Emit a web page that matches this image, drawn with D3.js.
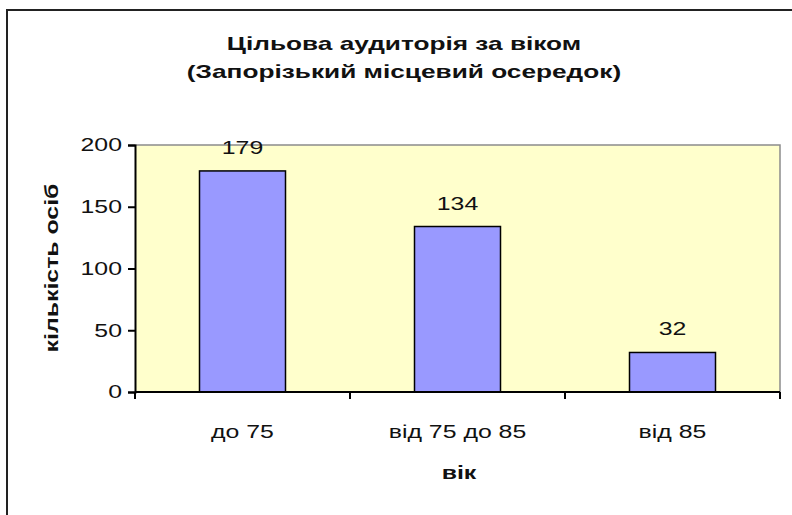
<!DOCTYPE html>
<html lang="uk">
	<head>
		<meta charset="utf-8">
		<title>Цільова аудиторія за віком</title>
		<style>
			body {
				margin: 0;
				background: white;
			}

			text {
				font-family: "Liberation Sans", Arial, sans-serif;
				fill: #111;
			}
		</style>
	</head>
	<body>

		<script src="https://cdn.jsdelivr.net/npm/d3@7"></script>
		<script>
			// Data
			var categories = ["до 75", "від 75 до 85", "від 85"];
			var values = [179, 134, 32];
			var yTicks = [0, 50, 100, 150, 200];

			// Width and Height
			var w = 792;
			var h = 515;

			// plot area
			var pLeft = 135, pRight = 780, pTop = 145, pBottom = 392;

			// the old chart text is drawn wide, so stretch each label a bit
			var stretch = 1.38;
			function widen(sel) {
				sel.each(function() {
					var len = this.getComputedTextLength();
					d3.select(this)
						.attr("textLength", len * stretch)
						.attr("lengthAdjust", "spacingAndGlyphs");
				});
			}

			var svg = d3.select("body").append("svg")
				.attr("width", w)
				.attr("height", h);

			// outer chart frame
			svg.append("rect")
				.attr("x", 7)
				.attr("y", 10)
				.attr("width", 800)
				.attr("height", 520)
				.attr("fill", "white")
				.attr("stroke", "#222")
				.attr("stroke-width", 2);

			var x = d3.scaleBand()
				.domain(categories)
				.range([pLeft, pRight])
				.paddingInner(0.6)
				.paddingOuter(0.3);

			var y = d3.scaleLinear()
				.domain([0, 200])
				.range([pBottom, pTop]);

			// plot background
			svg.append("rect")
				.attr("x", pLeft)
				.attr("y", pTop)
				.attr("width", pRight - pLeft)
				.attr("height", pBottom - pTop)
				.attr("fill", "#ffffcc");

			// grey top and right border
			svg.append("path")
				.attr("d", "M" + pLeft + "," + pTop + "H" + pRight + "V" + pBottom)
				.attr("fill", "none")
				.attr("stroke", "#8c8c8c")
				.attr("stroke-width", 1.5);

			// bars
			svg.selectAll("rect.bar")
				.data(values)
				.enter()
				.append("rect")
				.attr("class", "bar")
				.attr("x", function(d, i) { return x(categories[i]); })
				.attr("y", function(d) { return y(d); })
				.attr("width", x.bandwidth())
				.attr("height", function(d) { return pBottom - y(d); })
				.attr("fill", "#9999ff")
				.attr("stroke", "#000")
				.attr("stroke-width", 1.5);

			// value labels
			svg.selectAll("text.val")
				.data(values)
				.enter()
				.append("text")
				.attr("class", "val")
				.attr("x", function(d, i) { return x(categories[i]) + x.bandwidth() / 2; })
				.attr("y", function(d) { return y(d) - 17; })
				.attr("text-anchor", "middle")
				.style("font-size", "18px")
				.text(function(d) { return d; })
				.call(widen);

			// y axis
			var yAxis = d3.axisLeft(y)
				.tickValues(yTicks)
				.tickSize(7)
				.tickPadding(6);

			var gy = svg.append("g")
				.attr("transform", "translate(" + pLeft + ",0)")
				.call(yAxis);
			gy.select(".domain").attr("stroke", "#000").attr("stroke-width", 2);
			gy.selectAll(".tick line").attr("stroke", "#000").attr("stroke-width", 2);
			gy.selectAll(".tick text")
				.style("font-size", "18px")
				.style("font-family", "'Liberation Sans', Arial, sans-serif")
				.attr("fill", "#111")
				.call(widen);

			// x axis: ticks at band boundaries
			var gx = svg.append("g")
				.attr("transform", "translate(0," + pBottom + ")");
			gx.append("line")
				.attr("x1", pLeft)
				.attr("x2", pRight)
				.attr("stroke", "#000")
				.attr("stroke-width", 2);

			var step = x.step();
			var bounds = [pLeft];
			categories.forEach(function(c) {
				bounds.push(x(c) - x.paddingOuter() * step + step);
			});
			gx.selectAll("line.tk")
				.data(bounds)
				.enter()
				.append("line")
				.attr("class", "tk")
				.attr("x1", function(d) { return d; })
				.attr("x2", function(d) { return d; })
				.attr("y1", 0)
				.attr("y2", 7)
				.attr("stroke", "#000")
				.attr("stroke-width", 2);

			gx.selectAll("text")
				.data(categories)
				.enter()
				.append("text")
				.attr("x", function(d) { return x(d) + x.bandwidth() / 2; })
				.attr("y", 46)
				.attr("text-anchor", "middle")
				.style("font-size", "18px")
				.text(function(d) { return d; })
				.call(widen);

			// axis titles
			svg.append("text")
				.attr("x", 459)
				.attr("y", 479)
				.attr("text-anchor", "middle")
				.style("font-size", "18px")
				.style("font-weight", "bold")
				.text("вік")
				.call(widen);

			svg.append("text")
				.attr("transform", "translate(58,268) rotate(-90)")
				.attr("text-anchor", "middle")
				.style("font-size", "18px")
				.style("font-weight", "bold")
				.text("кількість осіб")
				.call(widen);

			// title
			svg.append("text")
				.attr("x", 404)
				.attr("y", 50)
				.attr("text-anchor", "middle")
				.style("font-size", "19px")
				.style("font-weight", "bold")
				.text("Цільова аудиторія за віком")
				.call(widen);

			svg.append("text")
				.attr("x", 404)
				.attr("y", 78)
				.attr("text-anchor", "middle")
				.style("font-size", "19px")
				.style("font-weight", "bold")
				.text("(Запорізький місцевий осередок)")
				.call(widen);
		</script>
	</body>
</html>
